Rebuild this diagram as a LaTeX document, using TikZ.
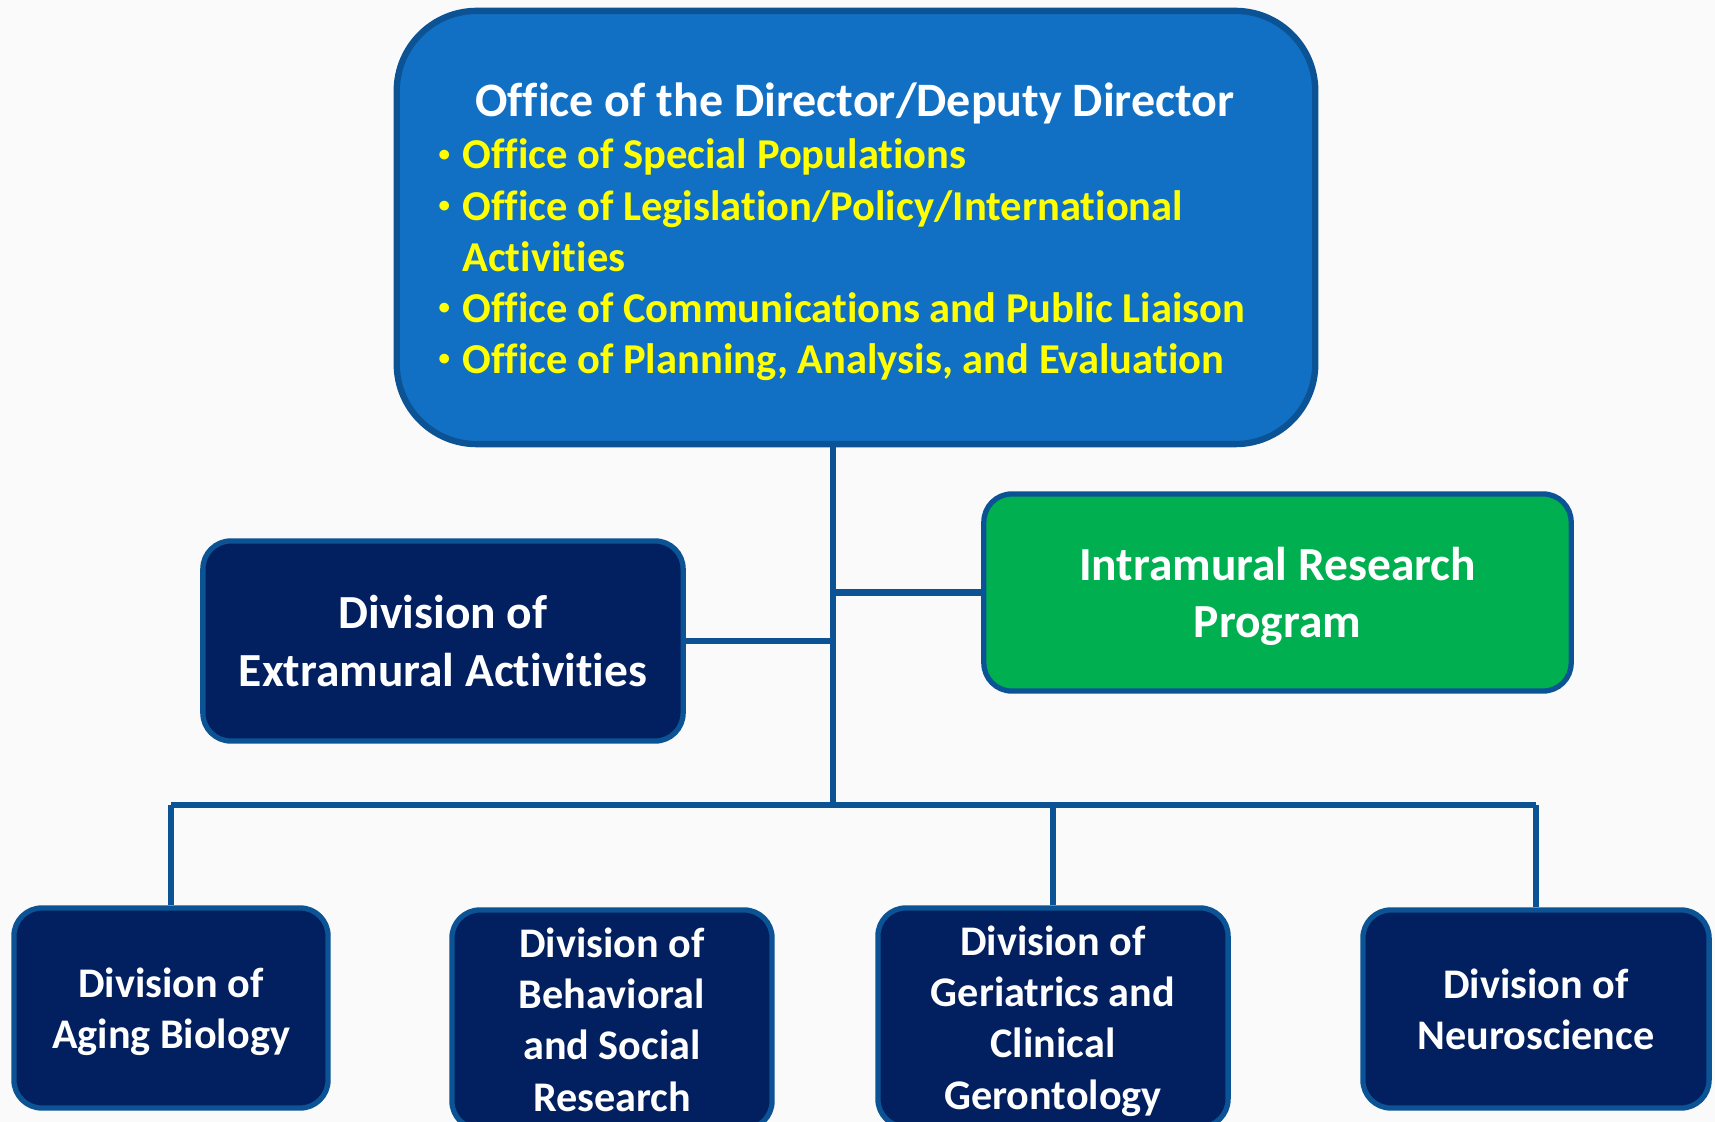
\documentclass[tikz,border=0pt]{standalone}
\usepackage{fontspec}
\setmainfont{Carlito}[Ligatures=NoCommon]
\definecolor{navybox}{HTML}{022060}
\definecolor{edgeblue}{HTML}{0B5394}
\definecolor{officeblue}{HTML}{1170C4}
\definecolor{irpgreen}{HTML}{00B050}
\definecolor{officeyellow}{HTML}{FFFF00}
\definecolor{bgpaper}{HTML}{FAFAFA}
\newcommand{\officebullet}{\raisebox{2.2pt}{\fontsize{6.5}{6.5}\selectfont\textbullet}}

\begin{document}
\begin{tikzpicture}[x=0.01cm, y=-0.01cm,
  division/.style={draw=edgeblue, line width=1.5pt, fill=navybox, text=white,
    rounded corners=0.28cm, align=center, inner sep=0pt, text depth=0pt,
    font=\fontsize{12}{14.6}\selectfont\bfseries},
  bigdivision/.style={division, font=\fontsize{13.5}{16.3}\selectfont\bfseries},
  link/.style={draw=edgeblue, line width=1.8pt}]
  \useasboundingbox (0,0) rectangle (1715,1122);
  \clip (0,0) rectangle (1715,1122);
  \fill[bgpaper] (0,0) rectangle (1715,1122);

  \node[division, fill=officeblue, line width=1.8pt, rounded corners=0.8cm,
    minimum width=9.18cm, minimum height=4.33cm] (director) at (856, 227.5) {};
  \node[text=white, font=\fontsize{13.65}{16.5}\selectfont\bfseries, inner sep=0pt]
    (dirtitle) at (855, 103) {Office of the Director/Deputy Director};
  \node[anchor=west, text=officeyellow, font=\fontsize{12.1}{14.55}\selectfont\bfseries, inner sep=0pt]
    (offices) at (438, 261) {%
    \begin{tabular}{@{}l@{\hspace{3.5pt}}l@{}}
      \officebullet & Office of Special Populations\\
      \officebullet & Office of Legislation/Policy/International\\
                    & Activities\\
      \officebullet & Office of Communications and Public Liaison\\
      \officebullet & Office of Planning, Analysis, and Evaluation
    \end{tabular}};

  \node[bigdivision, minimum width=4.80cm, minimum height=2.00cm]
    (extramural) at (443, 641) {Division of\\Extramural Activities};
  \node[bigdivision, fill=irpgreen, minimum width=5.87cm, minimum height=1.97cm]
    (intramural) at (1277.5, 592.5) {Intramural Research\\Program};

  \node[division, minimum width=3.14cm, minimum height=2.00cm]
    (aging) at (171, 1008) {Division of\\Aging Biology};
  \node[division, minimum width=3.20cm, minimum height=2.19cm]
    (behavioral) at (612, 1019.5) {Division of\\Behavioral\\and Social\\Research};
  \node[division, minimum width=3.50cm, minimum height=2.19cm]
    (geriatrics) at (1053, 1017.5) {Division of\\Geriatrics and\\Clinical\\Gerontology};
  \node[division, minimum width=3.46cm, minimum height=1.98cm]
    (neuro) at (1536, 1009) {Division of\\Neuroscience};

  \coordinate (hub) at (833, 805);
  \draw[link] (director.south -| hub) -- (hub);
  \draw[link] (extramural.east) -- (extramural.east -| hub);
  \draw[link] (intramural.west) -- (intramural.west -| hub);
  \draw[link] (aging.north |- hub) -- (neuro.north |- hub);
  \draw[link] (aging.north) -- (aging.north |- hub);
  \draw[link] (geriatrics.north) -- (geriatrics.north |- hub);
  \draw[link] (neuro.north) -- (neuro.north |- hub);
\end{tikzpicture}
\end{document}
